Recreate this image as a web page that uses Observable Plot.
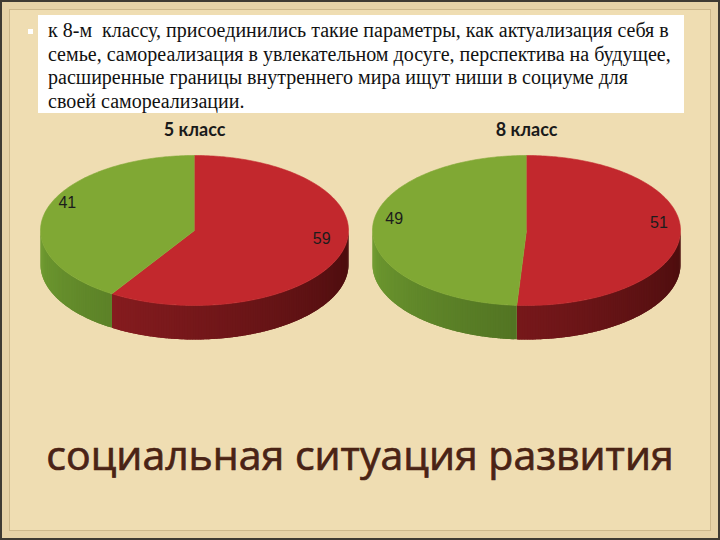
<!DOCTYPE html>
<html>
<head>
<meta charset="utf-8">
<script src="https://cdn.jsdelivr.net/npm/d3@7"></script>
<script src="https://cdn.jsdelivr.net/npm/@observablehq/plot@0.6"></script>
<style>
  html, body { margin: 0; padding: 0; background: #efddb2; }
  #slide {
    position: relative; width: 720px; height: 540px; overflow: hidden;
    background: #efddb2;
    box-shadow: inset 0 0 0 2px #3e3b33, inset 0 0 0 9px #e6d3a7, inset 0 0 0 10px #cdb98c;
  }
  #box {
    position: absolute; left: 38px; top: 15px; width: 646px; height: 98px;
    background: #ffffff; box-sizing: border-box; padding: 4px 0 0 10px;
    font-family: "Liberation Serif", "DejaVu Serif", serif; font-size: 20px;
    line-height: 23.5px; color: #111; white-space: pre;
  }
  #bullet { position: absolute; left: 28px; top: 29px; width: 5px; height: 5px; background: #fff; }
  #chart { position: absolute; left: 0; top: 0; }
  #title {
    position: absolute; left: 0; top: 432px; width: 720px; text-align: center;
    font-family: "Open Sans", sans-serif; font-size: 41px; font-weight: 400;
    -webkit-text-stroke: 0.7px #4a2315;
    line-height: 44px; color: #4a2315; white-space: nowrap;
  }
</style>
</head>
<body>
<div id="slide">
  <div id="chart"></div>
  <div id="bullet"></div>
  <div id="box">к 8-м  классу, присоединились такие параметры, как актуализация себя в
семье, самореализация в увлекательном досуге, перспектива на будущее,
расширенные границы внутреннего мира ищут ниши в социуме для
своей самореализации.</div>
  <div id="title">социальная ситуация развития</div>
</div>
<script>
// ---- data ----
const pieTitles = ["5 класс", "8 класс"];
const redValues = [59, 51];
const greenValues = [41, 49];

// ---- layout & style ----
const W = 720, H = 540;
const centersX = [194, 526];
const CY = 230, RX = 154, RY = 75, DEPTH = 34;
const seriesStyle = [
  {top: "#c2282d", sideDark: "#480c0d", sideLight: "#a22327"},  // red
  {top: "#80a834", sideDark: "#314913", sideLight: "#709c31"}   // green
];

const rad = d => d * Math.PI / 180;
const px = (cx, a) => cx + RX * Math.sin(rad(a));
const py = (cy, a) => cy - RY * Math.cos(rad(a));

const sides = [], tops = [], labels = [], titles = [];
let gid = 0;

pieTitles.forEach((t, i) => {
  const cx = centersX[i];
  const vals = [redValues[i], greenValues[i]];
  const total = d3.sum(vals);
  titles.push({x: cx, y: CY - RY - 25, text: t});
  let start = 0;
  vals.forEach((v, s) => {
    const a0 = start, a1 = start + v / total * 360;
    start = a1;
    const st = seriesStyle[s];
    // top face
    const id = "top" + (gid++);
    tops.push({id, x: cx, y: CY, color: st.top});
    const n = Math.max(2, Math.ceil(a1 - a0));
    for (let k = 0; k <= n; k++) {
      const a = a0 + (a1 - a0) * k / n;
      tops.push({id, x: px(cx, a), y: py(CY, a), color: st.top});
    }
    // side wall (front half only: 90..270), drawn as overlapping shaded strips
    const s0 = Math.max(a0, 90), s1 = Math.min(a1, 270);
    if (s1 > s0) {
      const m = Math.max(1, Math.ceil((s1 - s0) / 1));
      const interp = d3.interpolateRgb(st.sideDark, st.sideLight);
      for (let k = 0; k < m; k++) {
        const aa = s0 + (s1 - s0) * k / m;
        const ab = Math.min(s1, s0 + (s1 - s0) * (k + 1) / m + 1.2);
        const tt = ((aa + ab) / 2 - 90) / 180;
        const color = d3.color(interp(tt)).formatHex();
        const sid = "side" + (gid++);
        const steps = 3;
        for (let j = 0; j <= steps; j++) {
          const a = aa + (ab - aa) * j / steps;
          sides.push({id: sid, x: px(cx, a), y: py(CY, a), color});
        }
        for (let j = steps; j >= 0; j--) {
          const a = aa + (ab - aa) * j / steps;
          sides.push({id: sid, x: px(cx, a), y: py(CY, a) + DEPTH, color});
        }
      }
    }
    // value label
    const mid = (a0 + a1) / 2;
    labels.push({
      x: cx + 0.86 * RX * Math.sin(rad(mid)),
      y: CY - 0.86 * RY * Math.cos(rad(mid)) - 0.13 * RY,
      text: String(v)
    });
  });
});

const chart = Plot.plot({
  width: W, height: H,
  margin: 0,
  style: {background: "transparent", overflow: "visible"},
  x: {domain: [0, W], range: [0, W], axis: null},
  y: {domain: [0, H], range: [0, H], axis: null},
  color: {type: "identity"},
  marks: [
    Plot.line(sides, {x: "x", y: "y", z: "id", fill: "color", stroke: "none", curve: "linear"}),
    Plot.line(tops, {x: "x", y: "y", z: "id", fill: "color", stroke: "color", strokeWidth: 0.6, curve: "linear"}),
    Plot.text(labels, {x: "x", y: "y", text: "text", fontSize: 16, fill: "#1c1c1c",
      fontFamily: "Liberation Sans, Arial, sans-serif", textAnchor: "middle"}),
    Plot.text(titles, {x: "x", y: "y", text: "text", fontSize: 18, fontWeight: "bold", fill: "#1a1a1a",
      fontFamily: "Lato, sans-serif", textAnchor: "middle"})
  ]
});
document.getElementById("chart").appendChild(chart);
</script>
</body>
</html>
